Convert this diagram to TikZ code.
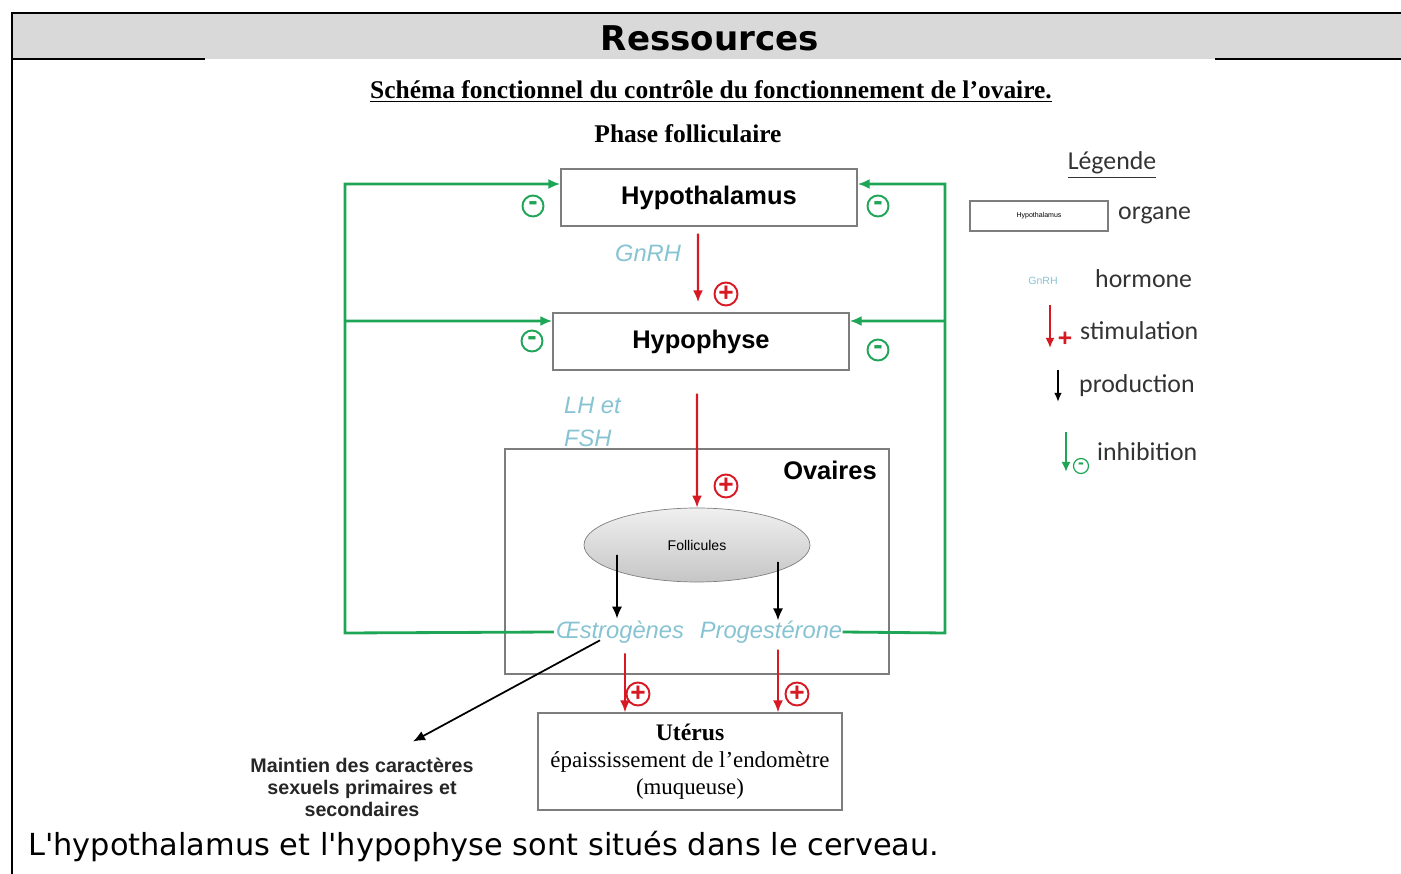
\documentclass[tikz,border=0pt]{standalone}
\usepackage{fontspec}
\setmainfont{Liberation Serif}
\setsansfont{Liberation Sans}
\newfontfamily\dejavu{DejaVu Sans}
\newfontfamily\carlito{Carlito}
\usetikzlibrary{arrows.meta,shapes.geometric}

\definecolor{headgray}{RGB}{217,217,217}
\definecolor{fbgreen}{RGB}{30,165,85}
\definecolor{stimred}{RGB}{215,25,35}
\definecolor{hormblue}{RGB}{135,195,210}
\definecolor{boxgray}{RGB}{125,125,125}

\tikzset{
  organ/.style={draw=boxgray, thick, fill=white, inner sep=0pt,
    font=\sffamily\bfseries\fontsize{14.5}{16}\selectfont},
  hormone/.style={text=hormblue, inner sep=1pt,
    font=\sffamily\itshape\fontsize{13.5}{16}\selectfont},
  stim/.style={draw=stimred, line width=1.3pt, ->},
  inhib/.style={draw=fbgreen, line width=1.6pt},
  prod/.style={draw=black, line width=1pt, ->},
  plussign/.style={circle, draw=stimred, line width=1.1pt, text=stimred,
    inner sep=0pt, minimum size=0.46cm, font=\sffamily\bfseries\fontsize{15}{15}\selectfont},
  minussign/.style={circle, draw=fbgreen, line width=1.1pt, text=fbgreen,
    inner sep=0pt, minimum size=0.42cm, font=\sffamily\bfseries\fontsize{16}{16}\selectfont},
  legtext/.style={text=black!80, font=\carlito\fontsize{14.7}{17}\selectfont},
}

\begin{document}
\begin{tikzpicture}[x=0.02cm, y=-0.02cm, >={Latex[length=2.4mm, width=2mm]}]
\useasboundingbox (0,0) rectangle (1401,874);

% Frame and header
\fill[headgray] (12,13) rectangle (1401,59);
\draw[line width=1.2pt] (1401,13) -- (12,13) -- (12,874);
\draw[line width=1pt] (12,59) -- (205,59);
\draw[line width=1pt] (1215,59) -- (1401,59);
\node[font=\dejavu\bfseries\fontsize{19.4}{21}\selectfont] (head) at (710,38) {Ressources};

% Titles
\node[font=\bfseries\fontsize{14.5}{16}\selectfont] (title) at (711,91)
  {\underline{Schéma fonctionnel du contrôle du fonctionnement de l'ovaire.}};
\node[font=\bfseries\fontsize{14.5}{16}\selectfont] (phase) at (688,134) {Phase folliculaire};

% Organs
\node[organ, minimum width=5.92cm, minimum height=1.14cm] (hypoth) at (709,197.5) {Hypothalamus};
\node[organ, minimum width=5.92cm, minimum height=1.14cm] (hypoph) at (701,341.5) {Hypophyse};
\node[draw=boxgray, thick, minimum width=7.68cm, minimum height=4.5cm] (ovaires) at (697,561.5) {};
\node[font=\sffamily\bfseries\fontsize{14.5}{16}\selectfont] (ovlabel) at (830,470) {Ovaires};
\node[ellipse, draw=gray, top color=gray!12, bottom color=gray!45, minimum width=4.52cm,
  minimum height=1.48cm, font=\sffamily\fontsize{8}{9}\selectfont] (foll) at (697,545) {Follicules};
\node[draw=boxgray, thick, minimum width=6.08cm, minimum height=1.94cm, align=center,
  font=\fontsize{13}{14.5}\selectfont] (uterus) at (690,761.5)
  {{\bfseries\fontsize{13.5}{15}\selectfont Utérus}\\[1pt] épaississement de l'endomètre\\[1pt] (muqueuse)};

% Hormones
\node[hormone] (gnrh) at (648,253) {GnRH};
\node[hormone, align=left, anchor=north west] (lhfsh) at (562,395) {LH et\\[3pt]FSH};
\node[hormone] (estro) at (620,632) {Œstrogènes};
\node[hormone, inner sep=0pt] (prog) at (771,632) {Progestérone};

% Stimulations
\draw[stim, shorten <=0.14cm, shorten >=0.2cm] ([xshift=-0.22cm]hypoth.south) -- ([xshift=-0.06cm]hypoph.north);
\draw[stim, shorten <=0.46cm] ([xshift=-0.08cm]hypoph.south) -- (foll.north);
\draw[stim, line width=0.9pt, shorten <=0.16cm] ([xshift=0.1cm]estro.south) -- ([xshift=-1.3cm]uterus.north);
\draw[stim, line width=0.9pt, shorten <=0.12cm] ([xshift=0.14cm]prog.south) -- ([xshift=1.76cm]uterus.north);
\node[plussign] (p1) at (726,294) {+};
\node[plussign] (p2) at (726,486) {+};
\node[plussign] (p3) at (638,694) {+};
\node[plussign] (p4) at (797,694) {+};

% Production
\draw[prod] ([xshift=-1.6cm,yshift=-0.2cm]foll.center) -- ([xshift=-0.06cm]estro.north);
\draw[prod] ([xshift=1.62cm,yshift=-0.34cm]foll.center) -- ([xshift=0.14cm]prog.north);
\node[align=center, font=\sffamily\bfseries\fontsize{11.2}{12.5}\selectfont, text=black!85] (maint) at (362,787)
  {Maintien des caractères\\sexuels primaires et\\secondaires};
\draw[prod] ([xshift=-0.4cm,yshift=0.1cm]estro.south) -- ([xshift=1.02cm,yshift=0.2cm]maint.north);

% Inhibitions
\coordinate (gl) at (345,633);
\coordinate (gr) at (945,633);
\draw[inhib, ->] (estro.west) -- (gl) |- ([yshift=0.27cm]hypoth.west);
\draw[inhib, ->] (gl |- 0,321) -- ([yshift=0.41cm]hypoph.west);
\draw[inhib, ->] (prog.east) -- (gr) |- ([yshift=0.27cm]hypoth.east);
\draw[inhib, ->] (gr |- 0,321) -- ([yshift=0.41cm]hypoph.east);
\node[minussign] (m1) at (533,206) {-};
\node[minussign] (m2) at (878,206) {-};
\node[minussign] (m3) at (532,341) {-};
\node[minussign] (m4) at (878,350) {-};

% Legend
\node[legtext] (leg) at (1112,165) {\underline{Légende}};
\node[draw=boxgray, thick, minimum width=2.76cm, minimum height=0.6cm,
  font=\sffamily\fontsize{4}{5}\selectfont] (legbox) at (1039,216) {Hypothalamus};
\node[legtext, anchor=west] (lorg) at (1112,215) {organe};
\node[text=hormblue, font=\sffamily\fontsize{6}{7}\selectfont] (leggn) at (1043,281) {GnRH};
\node[legtext, anchor=west] (lhorm) at (1089,279) {hormone};
\coordinate (ls1) at (1050,305);
\coordinate (ls2) at (1050,348);
\draw[stim, >={Latex[length=2mm, width=1.8mm]}] (ls1) -- (ls2);
\node[text=stimred, font=\sffamily\bfseries\fontsize{14}{14}\selectfont, inner sep=0pt] (lplus) at (1065,339) {+};
\node[legtext, anchor=west] (lstim) at (1074,331) {stimulation};
\coordinate (lp1) at (1058,370);
\coordinate (lp2) at (1058,402);
\draw[prod, >={Latex[length=1.8mm, width=1.5mm]}] (lp1) -- (lp2);
\node[legtext, anchor=west] (lprod) at (1073,386) {production};
\coordinate (li1) at (1066,432);
\coordinate (li2) at (1066,472);
\draw[inhib, ->, >={Latex[length=2mm, width=1.8mm]}] (li1) -- (li2);
\node[circle, draw=fbgreen, line width=0.7pt, inner sep=0pt, minimum size=0.3cm, text=fbgreen,
  font=\sffamily\bfseries\fontsize{10}{10}\selectfont] (lminus) at (1081,466) {-};
\node[legtext, anchor=west] (linh) at (1091,452) {inhibition};

% Bottom note
\node[anchor=west, font=\dejavu\fontsize{17.3}{20}\selectfont] (note) at (22,847)
  {L'hypothalamus et l'hypophyse sont situés dans le cerveau.};
\end{tikzpicture}
\end{document}
